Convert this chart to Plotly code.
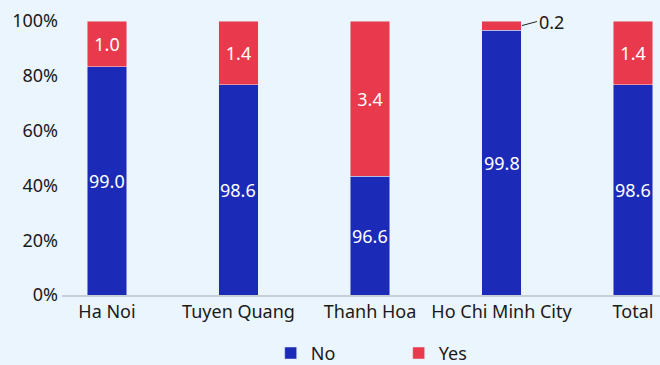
import plotly.graph_objects as go

# Share of respondents answering No / Yes, by location (percent)
categories = ["Ha Noi", "Tuyen Quang", "Thanh Hoa", "Ho Chi Minh City", "Total"]
no_values = [99.0, 98.6, 96.6, 99.8, 98.6]
yes_values = [1.0, 1.4, 3.4, 0.2, 1.4]

# Value axis shows only the upper band of the scale, labelled as 0-100%
axis_values = [94.0, 95.2, 96.4, 97.6, 98.8, 100.0]
axis_labels = ["0%", "20%", "40%", "60%", "80%", "100%"]
axis_floor = axis_values[0]

BLUE = "#1C2AB8"
RED = "#E83A4C"
BG = "#EBF5FE"
FONT = "Noto Sans"
TXT = "#1a1a1a"

x_idx = list(range(len(categories)))
small = [v < 0.5 for v in yes_values]

fig = go.Figure()
fig.add_trace(go.Bar(
    name="No", x=x_idx, y=no_values, marker_color=BLUE,
    textposition="none",
))
fig.add_trace(go.Bar(
    name="Yes", x=x_idx, y=yes_values, marker_color=RED,
    text=[f"{v:.1f}" for v in yes_values],
    textposition=["none" if s else "inside" for s in small],
    insidetextanchor="middle",
    textfont=dict(color="white", size=18, family=FONT),
))

# "No" labels sit in the middle of the visible part of each bar
for i, v in enumerate(no_values):
    fig.add_annotation(
        x=i, y=(axis_floor + v) / 2, xref="x", yref="y",
        text=f"{v:.1f}", showarrow=False,
        font=dict(size=18, family=FONT, color="white"),
    )

# Thin segments get an outside label with a short leader line
for i, s in enumerate(small):
    if s:
        fig.add_annotation(
            x=i + 0.155, y=no_values[i] + yes_values[i] / 2,
            xref="x", yref="y",
            text=f"{yes_values[i]:.1f}", showarrow=True, arrowhead=0,
            arrowwidth=1, arrowcolor="#222222",
            ax=15, ay=-4, xanchor="left",
            font=dict(size=18, family=FONT, color=TXT),
        )

fig.update_layout(
    barmode="stack", bargap=0.7,
    width=660, height=365,
    margin=dict(l=62, r=0, t=21, b=69.5),
    paper_bgcolor=BG, plot_bgcolor=BG,
    font=dict(family=FONT, size=18, color=TXT),
    showlegend=True,
    legend=dict(orientation="h", x=0.349, xanchor="left",
                y=0.032, yanchor="middle", yref="container",
                font=dict(size=18), entrywidth=83, traceorder="normal",
                bgcolor="rgba(0,0,0,0)"),
    xaxis=dict(
        tickmode="array", tickvals=x_idx, ticktext=categories,
        range=[-0.342, 4.205], showgrid=False, zeroline=False,
        showline=True, linecolor="#C9CED4", linewidth=1.5, ticks="",
    ),
    yaxis=dict(
        range=[94, 100], tickmode="array", tickvals=axis_values, ticktext=axis_labels,
        showgrid=False, zeroline=False, showline=False, ticks="",
        ticklabelstandoff=3,
    ),
)

fig.write_html("out.html")
